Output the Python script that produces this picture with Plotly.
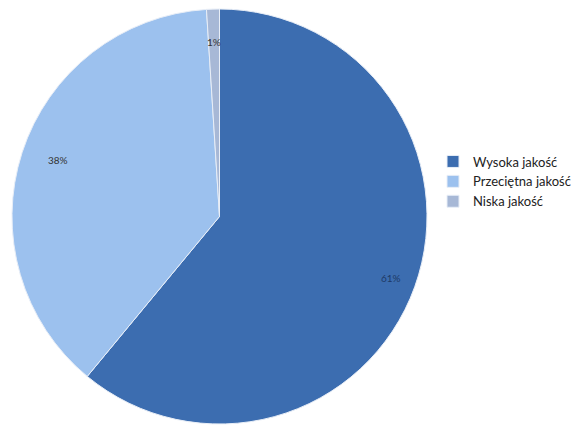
import math
import plotly.graph_objects as go

labels = ["Wysoka jakość", "Przeciętna jakość", "Niska jakość"]
values = [61, 38, 1]
colors = ["#3C6DB0", "#9CC1EE", "#A7B8D6"]
text_colors = ["#1E3A66", "#333333", "#333333"]

W, H = 588, 429
dom_x = [12 / W, 427 / W]
dom_y = [4 / H, 421 / H]

fig = go.Figure(go.Pie(
    labels=labels,
    values=values,
    sort=False,
    direction="clockwise",
    rotation=0,
    marker=dict(colors=colors, line=dict(color="#E8EEF7", width=1)),
    textinfo="none",
    domain=dict(x=dom_x, y=dom_y),
    hoverinfo="label+percent",
))

# percentage labels placed near the outer edge, derived from the values
total = sum(values)
cx = (dom_x[0] + dom_x[1]) / 2 * W
cy = (dom_y[0] + dom_y[1]) / 2 * H
R = min((dom_x[1] - dom_x[0]) * W, (dom_y[1] - dom_y[0]) * H) / 2
cum = 0
for v, tc in zip(values, text_colors):
    mid = (cum + v / 2) / total * 2 * math.pi
    cum += v
    rr = 0.88 * R
    px = cx + rr * math.sin(mid)
    py = cy + rr * math.cos(mid)  # upward from center (paper coords)
    fig.add_annotation(
        x=px / W, y=py / H, xref="paper", yref="paper",
        text=f"{round(100 * v / total)}%", showarrow=False,
        font=dict(family="Lato, sans-serif", size=10, color=tc),
    )

fig.update_layout(
    width=W, height=H,
    margin=dict(l=0, r=0, t=0, b=0),
    paper_bgcolor="white",
    plot_bgcolor="white",
    showlegend=True,
    legend=dict(
        x=433 / W, y=1 - 181.5 / H, xanchor="left", yanchor="middle",
        font=dict(family="Lato, sans-serif", size=13, color="#222222"),
        itemwidth=30,
    ),
)

fig.write_html("out.html", config={"displayModeBar": False},
               post_script="document.body.style.margin='0';")
